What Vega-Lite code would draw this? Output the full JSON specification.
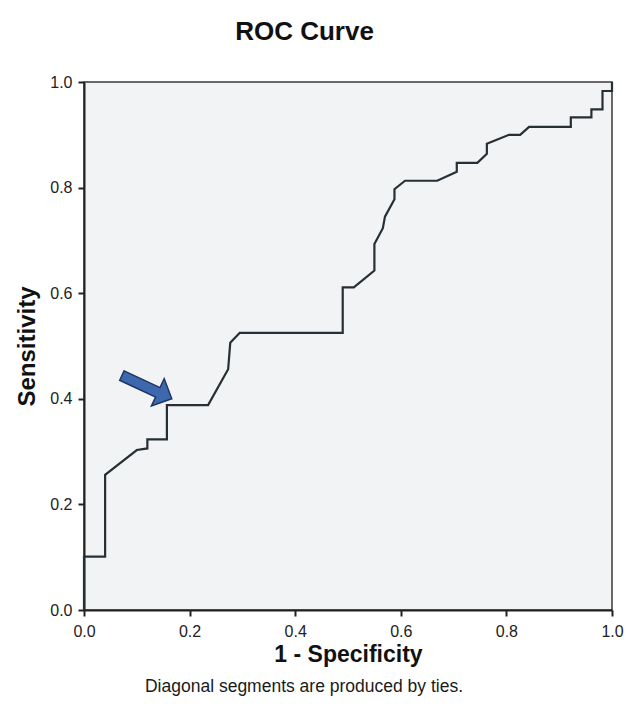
{
  "$schema": "https://vega.github.io/schema/vega-lite/v6.json",
  "width": 528,
  "height": 528,
  "autosize": {"type": "none"},
  "padding": {"left": 84, "top": 82, "right": 27, "bottom": 117},
  "background": "#ffffff",
  "title": {
    "text": "Diagonal segments are produced by ties.",
    "orient": "bottom",
    "font": "Liberation Sans",
    "fontSize": 17.5,
    "fontWeight": "normal",
    "color": "#1a1a1a",
    "offset": 12,
    "dx": -44
  },
  "config": {
    "view": {"fill": "#f2f3f5", "stroke": "#3a3a3a", "strokeWidth": 1.5},
    "font": "Liberation Sans"
  },
  "layer": [
    {
      "data": {
        "values": [
          {"i": 0, "fpr": 0, "tpr": 0},
          {"i": 1, "fpr": 0, "tpr": 0.101},
          {"i": 2, "fpr": 0.04, "tpr": 0.101},
          {"i": 3, "fpr": 0.04, "tpr": 0.256},
          {"i": 4, "fpr": 0.1, "tpr": 0.303},
          {"i": 5, "fpr": 0.12, "tpr": 0.306},
          {"i": 6, "fpr": 0.12, "tpr": 0.323},
          {"i": 7, "fpr": 0.157, "tpr": 0.323},
          {"i": 8, "fpr": 0.157, "tpr": 0.388},
          {"i": 9, "fpr": 0.235, "tpr": 0.388},
          {"i": 10, "fpr": 0.273, "tpr": 0.456},
          {"i": 11, "fpr": 0.277, "tpr": 0.506},
          {"i": 12, "fpr": 0.295, "tpr": 0.525},
          {"i": 13, "fpr": 0.49, "tpr": 0.525},
          {"i": 14, "fpr": 0.49, "tpr": 0.611},
          {"i": 15, "fpr": 0.511, "tpr": 0.611},
          {"i": 16, "fpr": 0.55, "tpr": 0.643},
          {"i": 17, "fpr": 0.55, "tpr": 0.693},
          {"i": 18, "fpr": 0.566, "tpr": 0.723},
          {"i": 19, "fpr": 0.57, "tpr": 0.745},
          {"i": 20, "fpr": 0.588, "tpr": 0.778},
          {"i": 21, "fpr": 0.588, "tpr": 0.797},
          {"i": 22, "fpr": 0.608, "tpr": 0.813},
          {"i": 23, "fpr": 0.669, "tpr": 0.813},
          {"i": 24, "fpr": 0.706, "tpr": 0.83},
          {"i": 25, "fpr": 0.706, "tpr": 0.847},
          {"i": 26, "fpr": 0.745, "tpr": 0.847},
          {"i": 27, "fpr": 0.763, "tpr": 0.864},
          {"i": 28, "fpr": 0.763, "tpr": 0.883},
          {"i": 29, "fpr": 0.805, "tpr": 0.9},
          {"i": 30, "fpr": 0.826, "tpr": 0.9},
          {"i": 31, "fpr": 0.843, "tpr": 0.915},
          {"i": 32, "fpr": 0.922, "tpr": 0.915},
          {"i": 33, "fpr": 0.922, "tpr": 0.933},
          {"i": 34, "fpr": 0.961, "tpr": 0.933},
          {"i": 35, "fpr": 0.961, "tpr": 0.948},
          {"i": 36, "fpr": 0.982, "tpr": 0.948},
          {"i": 37, "fpr": 0.982, "tpr": 0.983},
          {"i": 38, "fpr": 1, "tpr": 0.983},
          {"i": 39, "fpr": 1, "tpr": 1}
        ]
      },
      "mark": {"type": "line", "color": "#263034", "strokeWidth": 2.2, "strokeJoin": "miter"},
      "encoding": {
        "x": {
          "field": "fpr",
          "type": "quantitative",
          "scale": {"domain": [0, 1], "nice": false, "zero": true},
          "axis": {
            "orient": "bottom",
            "title": "1 - Specificity",
            "values": [0, 0.2, 0.4, 0.6, 0.8, 1],
            "format": ".1f",
            "grid": false,
            "labelFlush": false,
            "domainColor": "#222222",
            "domainWidth": 2,
            "tickColor": "#222222",
            "tickWidth": 2,
            "tickSize": 6,
            "labelFont": "Liberation Sans",
            "labelFontSize": 16,
            "labelColor": "#222222",
            "labelPadding": 7,
            "titleFont": "Liberation Sans",
            "titleFontSize": 23,
            "titleFontWeight": "bold",
            "titleColor": "#111111",
            "titlePadding": 4
          }
        },
        "y": {
          "field": "tpr",
          "type": "quantitative",
          "scale": {"domain": [0, 1], "nice": false},
          "axis": {
            "title": "Sensitivity",
            "values": [0, 0.2, 0.4, 0.6, 0.8, 1],
            "format": ".1f",
            "grid": false,
            "labelFlush": false,
            "domainColor": "#222222",
            "domainWidth": 2,
            "tickColor": "#222222",
            "tickWidth": 2,
            "tickSize": 6,
            "labelFont": "Liberation Sans",
            "labelFontSize": 16,
            "labelColor": "#222222",
            "labelPadding": 6,
            "titleFont": "Liberation Sans",
            "titleFontSize": 24,
            "titleFontWeight": "bold",
            "titleColor": "#111111",
            "titlePadding": 10
          }
        },
        "order": {"field": "i", "type": "quantitative"}
      }
    },
    {
      "data": {"values": [{"ax": 0.119, "ay": 0.422}]},
      "mark": {
        "type": "point",
        "shape": "M-1,-0.19L0.44,-0.19L0.44,-0.55L1,0L0.44,0.55L0.44,0.19L-1,0.19Z",
        "filled": true,
        "fill": "#3d68ad",
        "stroke": "#1c3766",
        "strokeWidth": 1.5,
        "size": 3025,
        "angle": 25,
        "opacity": 1,
        "fillOpacity": 1
      },
      "encoding": {
        "x": {
          "field": "ax",
          "type": "quantitative",
          "axis": {
            "orient": "top",
            "title": "ROC Curve",
            "labels": false,
            "ticks": false,
            "domain": false,
            "grid": false,
            "titleFont": "Liberation Sans",
            "titleFontSize": 26,
            "titleFontWeight": "bold",
            "titleColor": "#111111",
            "titlePadding": 38,
            "titleX": 220,
            "titleAlign": "center"
          }
        },
        "y": {
          "field": "ay",
          "type": "quantitative",
          "axis": {
            "title": "Sensitivity",
            "values": [0, 0.2, 0.4, 0.6, 0.8, 1],
            "format": ".1f",
            "grid": false,
            "labelFlush": false,
            "domainColor": "#222222",
            "domainWidth": 2,
            "tickColor": "#222222",
            "tickWidth": 2,
            "tickSize": 6,
            "labelFont": "Liberation Sans",
            "labelFontSize": 16,
            "labelColor": "#222222",
            "labelPadding": 6,
            "titleFont": "Liberation Sans",
            "titleFontSize": 24,
            "titleFontWeight": "bold",
            "titleColor": "#111111",
            "titlePadding": 10
          }
        }
      }
    }
  ],
  "resolve": {"axis": {"x": "independent"}}
}
